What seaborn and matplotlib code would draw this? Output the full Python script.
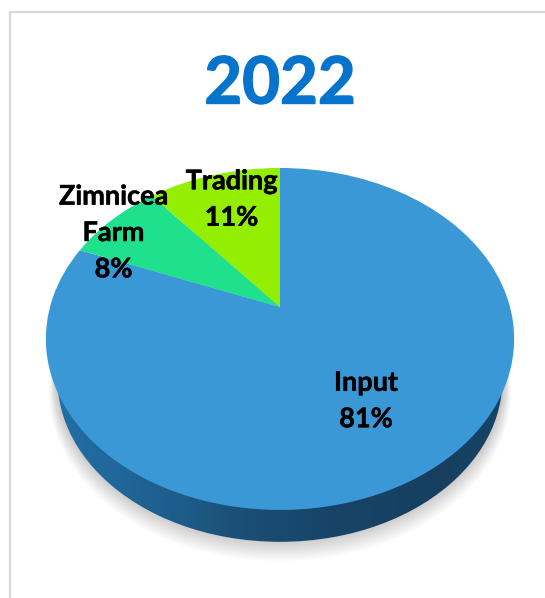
import numpy as np
import matplotlib
matplotlib.use("Agg")
import matplotlib.pyplot as plt
import matplotlib.patheffects as pe
import seaborn as sns
from matplotlib.patches import Circle
from matplotlib.path import Path
from matplotlib.transforms import Transform, Affine2D
from matplotlib.colors import LinearSegmentedColormap

sns.set_theme(style="white")
plt.rcParams['font.family'] = ['Lato', 'DejaVu Sans']

# ---- data ----
TITLE = "2022"
categories = ["Input", "Zimnicea\nFarm", "Trading"]
shares = [81, 8, 11]
colors = ["#3a98d6", "#1fe08c", "#93ee00"]

W, H = 545, 598
APEX = (280.0, 307.0)
K, A, C = 230.0, 165.0, 0.187   # perspective of the tilted disc
DEPTH = 42.0
WALL_SCALE = 0.95

class Tilt(Transform):
    input_dims = output_dims = 2
    def transform_non_affine(self, xy):
        xy = np.asarray(xy, float)
        d = 1 + C * xy[:, 1]
        return np.column_stack([APEX[0] + K * xy[:, 0] / d, APEX[1] - A * xy[:, 1] / d])
    def transform_path_non_affine(self, path):
        return Path(self.transform_non_affine(path.vertices), path.codes)

fig = plt.figure(figsize=(W / 100, H / 100), dpi=100, facecolor="white")
ax = fig.add_axes([0, 0, 1, 1])
ax.set_xlim(0, W)
ax.set_ylim(H, 0)
ax.axis("off")

tilt = Tilt()

# outer frame of the chart area
ax.plot([545, 9.5, 9.5], [11.5, 11.5, 598], color="#d9d9d9", lw=1.6, zorder=1, clip_on=False)

def disc_transform(dy=0.0, scale=1.0):
    return (tilt + Affine2D().translate(-APEX[0], -APEX[1]).scale(scale)
            .translate(APEX[0], APEX[1] + dy) + ax.transData)

def disc_patches(dy=0.0, scale=1.0):
    wedges, _ = ax.pie(shares, startangle=90, counterclock=False, colors=colors,
                       radius=1.0, wedgeprops=dict(linewidth=0))
    ax.set_xlim(0, W); ax.set_ylim(H, 0); ax.set_aspect("auto"); ax.axis("off")
    for w in wedges:
        w.set_transform(disc_transform(dy, scale))
        w.set_clip_on(False)
    return wedges

# soft drop shadow
for dy, sc in zip(np.linspace(DEPTH + 12, DEPTH - 4, 10), np.linspace(0.985, 0.955, 10)):
    for w in disc_patches(dy, sc):
        w.set_facecolor("#000000"); w.set_alpha(0.024); w.set_zorder(2)

# side wall with a horizontal gradient
cmap = LinearSegmentedColormap.from_list("wall", [
    (0.00, "#236fa6"), (0.14, "#20689c"), (0.30, "#1d5b88"), (0.42, "#1a4f76"),
    (0.60, "#174468"), (0.85, "#163f5f"), (1.00, "#174468")])
im = ax.imshow(np.linspace(0, 1, 256)[None, :], extent=[46, 514, 560, 330], cmap=cmap,
               aspect="auto", zorder=3)
outline = Circle((0, 0), 1.0)
im.set_clip_path(outline.get_path(), outline.get_patch_transform() + disc_transform(DEPTH, WALL_SCALE))
ax.set_xlim(0, W); ax.set_ylim(H, 0)

# top face of the pie
for w in disc_patches():
    w.set_zorder(4)

# labels
heavy = [pe.withStroke(linewidth=0.35, foreground="black")]
label_style = dict(ha="center", va="center", fontsize=19.5, fontweight="bold",
                   color="black", linespacing=1.62, zorder=5, path_effects=heavy)
ax.text(366, 401, f"{categories[0]}\n{shares[0]}%", **label_style)
ax.text(113.5, 233, f"{categories[1]}\n{shares[1]}%", **label_style)
ax.text(231.5, 199.5, f"{categories[2]}\n{shares[2]}%", **label_style)

ax.text(280, 85, TITLE, ha="center", va="center", fontsize=47, fontweight="bold",
        color="#0674cc", zorder=5,
        path_effects=[pe.withStroke(linewidth=1.0, foreground="#0674cc")])

fig.savefig("out.png", dpi=100)
